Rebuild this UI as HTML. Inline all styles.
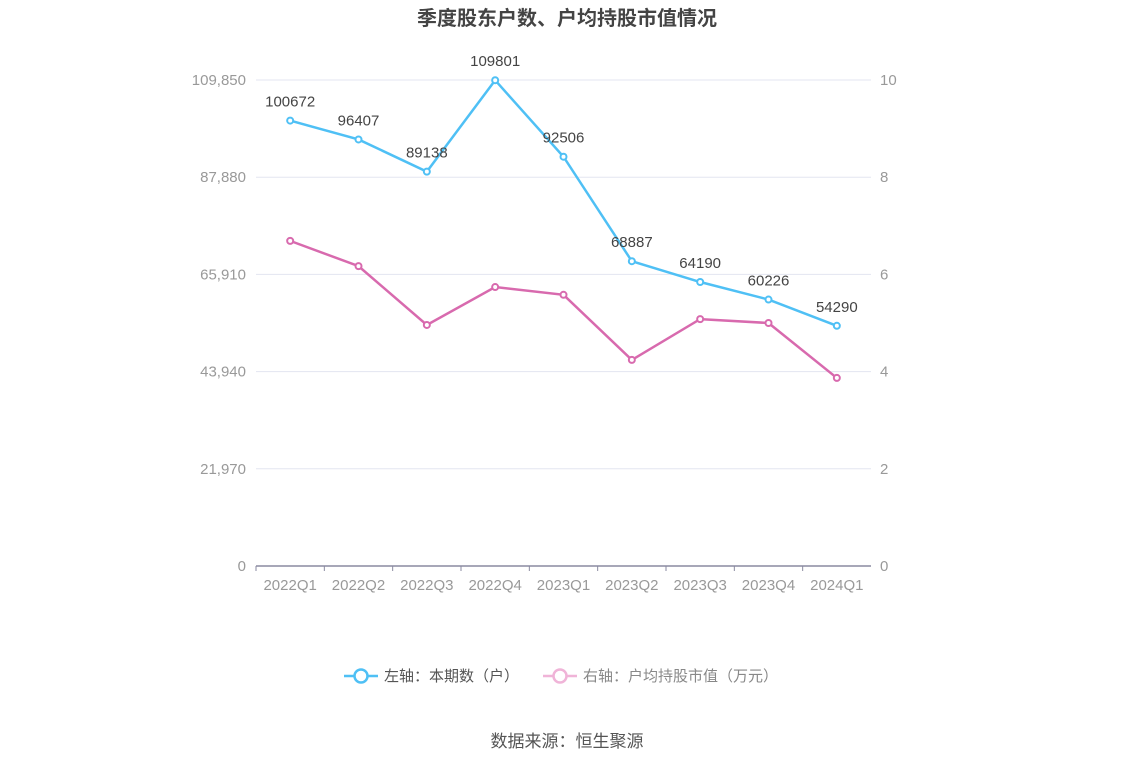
<!DOCTYPE html>
<html><head><meta charset="utf-8"><style>
body{margin:0;background:#fff;font-family:"Liberation Sans","Noto Sans CJK SC",sans-serif;}
svg{display:block}
</style></head><body>
<svg id="c" width="1134" height="766" xmlns="http://www.w3.org/2000/svg">
<text x="567" y="25" text-anchor="middle" font-size="20" font-weight="bold" fill="#444" font-family="Liberation Sans, Noto Sans CJK SC, sans-serif">季度股东户数、户均持股市值情况</text>
<g id="grid"></g><g id="axes"></g><g id="series"></g>
<g>
<g>
<line x1="344" y1="676" x2="378" y2="676" stroke="#4fc0f5" stroke-width="2.5"/>
<circle cx="361" cy="676" r="6.5" fill="#fff" stroke="#4fc0f5" stroke-width="2.5"/>
<text x="384" y="681" font-size="15" fill="#555" font-family="Liberation Sans, Noto Sans CJK SC, sans-serif">左轴：本期数（户）</text>
</g>
<g>
<line x1="543" y1="676" x2="577" y2="676" stroke="#f0b4d8" stroke-width="2.5"/>
<circle cx="560" cy="676" r="6.5" fill="#fff" stroke="#f0b4d8" stroke-width="2.5"/>
<text x="583" y="681" font-size="15" fill="#888" font-family="Liberation Sans, Noto Sans CJK SC, sans-serif">右轴：户均持股市值（万元）</text>
</g>
</g>
<text x="567" y="747" text-anchor="middle" font-size="17" fill="#555" font-family="Liberation Sans, Noto Sans CJK SC, sans-serif">数据来源：恒生聚源</text>
</svg>
<script>
const categories=["2022Q1","2022Q2","2022Q3","2022Q4","2023Q1","2023Q2","2023Q3","2023Q4","2024Q1"];
const holders=[100672,96407,89138,109801,92506,68887,64190,60226,54290];
const avgValue=[6.69,6.17,4.96,5.74,5.58,4.24,5.08,5.00,3.87];
const leftTicks=[0,21970,43940,65910,87880,109850];
const rightTicks=[0,2,4,6,8,10];
const NS="http://www.w3.org/2000/svg";
const X0=256,X1=871,Y0=566,Y1=80;
const bw=(X1-X0)/categories.length;
const xs=i=>X0+bw*(i+0.5);
const yl=v=>Y0-(v/109850)*(Y0-Y1);
const yr=v=>Y0-(v/10)*(Y0-Y1);
function mk(p,tag,a){const e=document.createElementNS(NS,tag);for(const k in a)e.setAttribute(k,a[k]);p.appendChild(e);return e;}
const F="Liberation Sans, Noto Sans CJK SC, sans-serif";
const grid=document.getElementById('grid'),axes=document.getElementById('axes'),ser=document.getElementById('series');
leftTicks.forEach((t,i)=>{
 if(i>0){const g=mk(grid,'line',{x1:X0,x2:X1,y1:yl(t),y2:yl(t),stroke:'#e3e5f0','stroke-width':1});
 
 }
 const tx=mk(axes,'text',{x:246,y:yl(t)+5,'text-anchor':'end','font-size':15,fill:'#999','font-family':F});
 tx.textContent=t.toLocaleString('en-US');
 
 
});
rightTicks.forEach(t=>{
 const tx=mk(axes,'text',{x:880,y:yr(t)+5,'font-size':15,fill:'#999','font-family':F});
 tx.textContent=t;
 
 
});
const ax=mk(axes,'line',{x1:X0,x2:X1,y1:Y0,y2:Y0,stroke:'#8a8aa0','stroke-width':1.5});


categories.forEach((c,i)=>{
 const tk=mk(axes,'line',{x1:X0+bw*i,x2:X0+bw*i,y1:Y0,y2:Y0+5,stroke:'#8a8aa0'});
 
 
 const tx=mk(axes,'text',{x:xs(i),y:Y0+24,'text-anchor':'middle','font-size':15,fill:'#999','font-family':F});
 tx.textContent=c;
 
 
});
function line(vals,yf,color,name,labels){
 const p=mk(ser,'polyline',{points:vals.map((v,i)=>xs(i)+','+yf(v)).join(' '),fill:'none',stroke:color,'stroke-width':2.5});
 
 
 vals.forEach((v,i)=>{
  const c=mk(ser,'circle',{cx:xs(i),cy:yf(v),r:3,fill:'#fff',stroke:color,'stroke-width':2});
  
  
  if(labels){const t=mk(ser,'text',{x:xs(i),y:yf(v)-14,'text-anchor':'middle','font-size':15,fill:'#444','font-family':F});
  t.textContent=v;
  
  }
 });
}
line(avgValue,yr,'#d86aae','avg-value',false);
line(holders,yl,'#4fc0f5','holders',true);
</script>
</body></html>
